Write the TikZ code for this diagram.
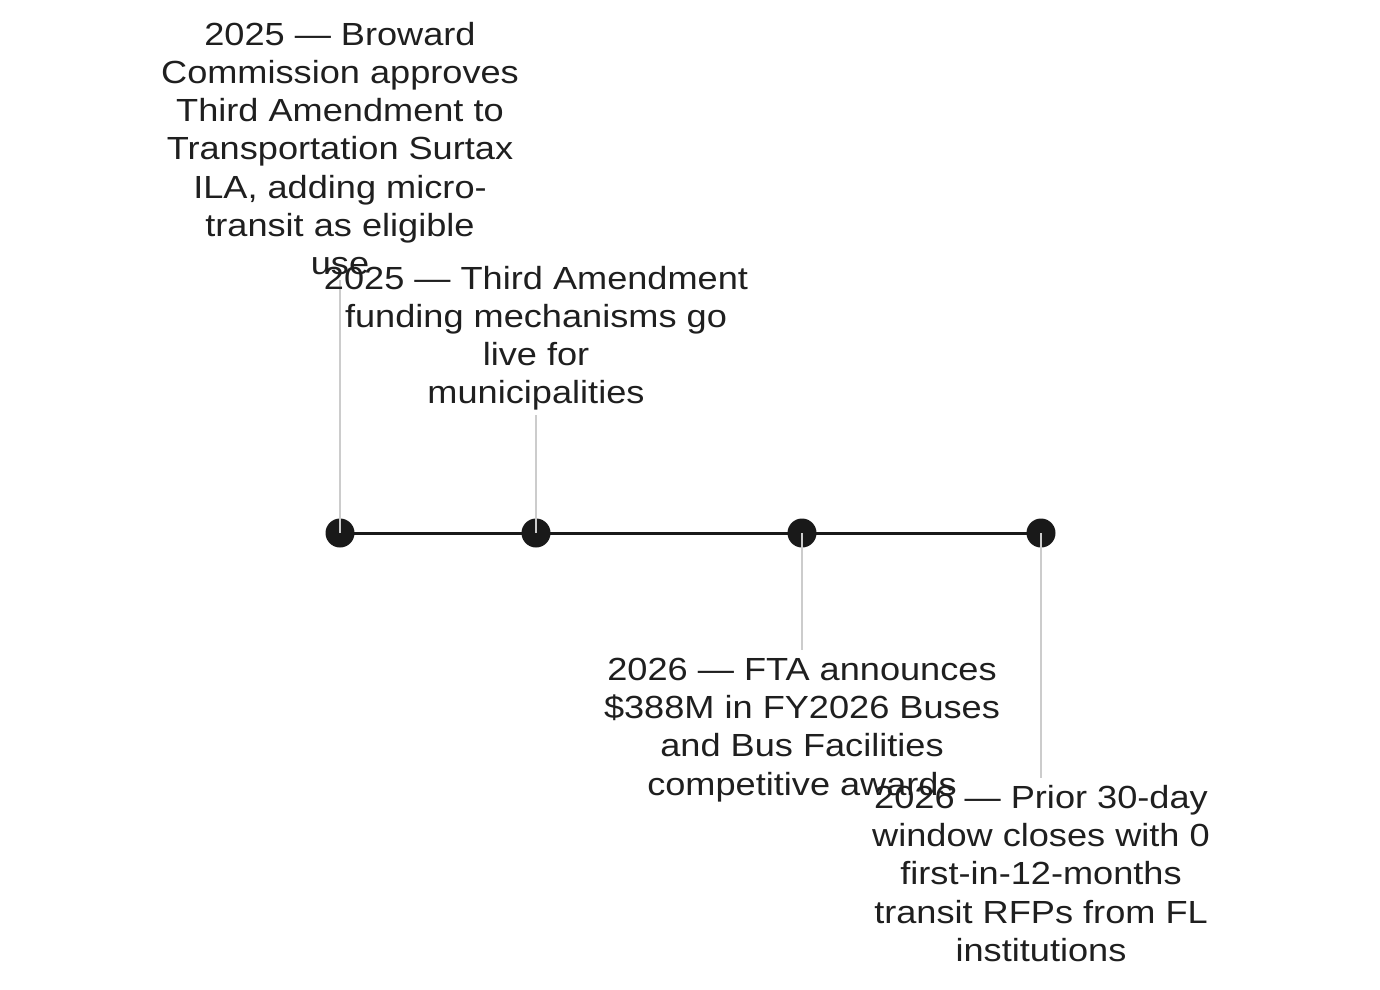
\documentclass[tikz,border=0pt]{standalone}
\usepackage{fontspec}
\setmainfont{Liberation Sans}[FakeStretch=1.13]
\begin{document}
\begin{tikzpicture}[x=1pt,y=-1pt,
  lbl/.style={align=center,inner sep=0pt,anchor=north,font=\fontsize{32}{38.2}\selectfont,text=black!88},
  dot/.style={circle,fill=black!90,minimum size=29pt,inner sep=0pt},
  conn/.style={draw=black!20,line width=1.5pt}]
\useasboundingbox (0,0) rectangle (1380,989);
\draw[line width=3pt,black!90] (340,533) -- (1041,533);
\node[dot] (d1) at (340,533) {};
\node[dot] (d2) at (536,533) {};
\node[dot] (d3) at (802,533) {};
\node[dot] (d4) at (1041,533) {};
\coordinate (c1) at (340,280);
\coordinate (c2) at (536,415);
\coordinate (c3) at (802,650);
\coordinate (c4) at (1041,778);
\draw[conn] (d1.center) -- (c1);
\draw[conn] (d2.center) -- (c2);
\draw[conn] (d3.center) -- (c3);
\draw[conn] (d4.center) -- (c4);
\node[lbl] (t1) at (340,22) {2025 — Broward\\Commission approves\\Third Amendment to\\Transportation Surtax\\ILA, adding micro-\\transit as eligible\\use};
\node[lbl] (t2) at (536,266) {2025 — Third Amendment\\funding mechanisms go\\live for\\municipalities};
\node[lbl] (t3) at (802,658) {2026 — FTA announces\\\$388M in FY2026 Buses\\and Bus Facilities\\competitive awards};
\node[lbl] (t4) at (1041,785) {2026 — Prior 30-day\\window closes with 0\\first-in-12-months\\transit RFPs from FL\\institutions};
\end{tikzpicture}
\end{document}
